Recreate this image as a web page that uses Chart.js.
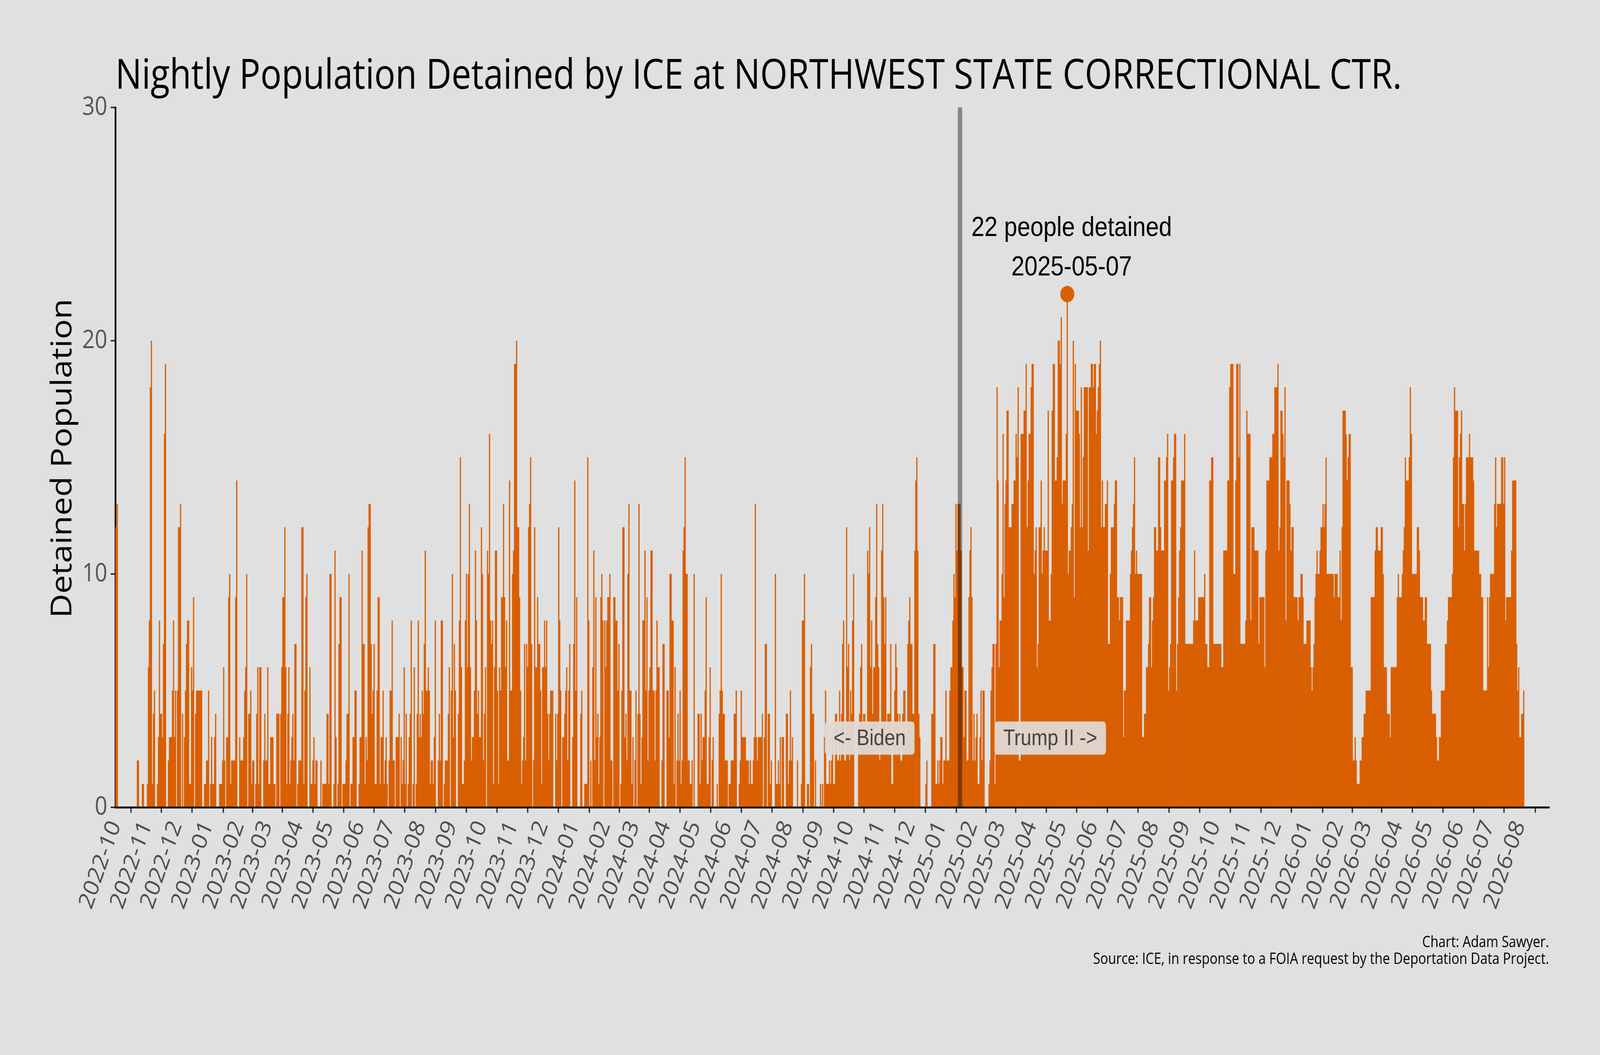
<!DOCTYPE html>
<html>
<head>
<meta charset="utf-8">
<title>Nightly Population Detained by ICE at NORTHWEST STATE CORRECTIONAL CTR.</title>
<script src="https://cdn.jsdelivr.net/npm/chart.js@4.4.1/dist/chart.umd.min.js"></script>
<style>
  html, body { margin: 0; padding: 0; background: #e0e0e0; overflow: hidden; }
  #detainedChart { display: block; }
</style>
</head>
<body>
<canvas id="detainedChart" width="4800" height="2700"></canvas>
<script>
// --- Data (one value per night) ---
const startDate = '2022-10-01';

const nightlyCounts = [
  // 2022-10
  12,12,13,0,0,0,0,0,0,0,0,0,0,0,0,0,0,0,0,0,0,0,2,2,0,0,0,1,1,0,0,
  // 2022-11
  0,1,6,8,18,20,1,4,5,0,0,1,3,8,4,4,3,7,16,19,0,0,2,3,3,3,5,8,3,5,
  // 2022-12
  0,5,12,12,13,0,4,0,3,5,7,8,8,1,1,6,5,9,0,4,5,5,5,5,5,5,0,0,1,1,2,
  // 2023-01
  2,5,0,1,3,1,1,3,4,0,0,0,1,1,1,2,6,2,0,3,3,9,10,1,2,2,2,2,9,14,0,
  // 2023-02
  0,3,2,2,2,3,5,6,10,0,4,4,5,1,2,2,0,1,4,6,1,6,6,0,0,2,4,2,
  // 2023-03
  2,6,1,1,3,3,3,1,1,0,4,4,4,0,4,6,9,9,12,6,1,4,6,1,2,3,4,2,7,7,0,
  // 2023-04
  1,2,2,2,12,12,1,5,9,10,0,0,6,1,1,2,3,1,2,2,0,0,0,2,0,1,1,1,1,4,
  // 2023-05
  4,1,10,10,0,0,1,11,3,0,1,7,9,9,0,1,1,1,2,4,4,10,0,1,1,3,3,5,5,0,0,
  // 2023-06
  1,3,3,11,7,7,1,3,2,12,13,13,7,4,5,7,1,1,5,9,9,1,3,3,5,1,2,3,1,0,
  // 2023-07
  2,5,5,8,2,2,0,3,3,3,4,0,3,1,2,6,1,4,0,1,3,4,8,0,1,6,0,1,4,8,3,
  // 2023-08
  4,3,5,4,7,11,5,5,6,5,1,2,2,1,3,8,0,0,2,4,2,8,8,0,1,2,2,2,4,6,0,
  // 2023-09
  5,10,3,7,5,0,0,4,8,15,6,1,1,2,8,10,6,10,13,6,2,3,3,5,11,8,4,5,3,3,
  // 2023-10
  12,10,2,4,6,0,11,10,16,8,7,8,1,6,11,11,5,1,6,5,9,9,13,9,6,8,2,2,14,5,5,
  // 2023-11
  10,11,19,19,20,12,12,9,5,1,2,3,7,2,7,6,12,13,15,7,0,2,12,6,6,9,7,7,5,1,
  // 2023-12
  6,6,8,6,8,4,2,4,5,5,5,0,0,4,2,4,12,8,5,0,3,3,4,5,6,2,5,7,0,0,3,
  // 2024-01
  7,14,5,9,0,0,0,4,5,0,0,1,1,1,15,8,0,2,0,6,11,2,9,3,4,1,3,9,10,8,0,
  // 2024-02
  8,6,8,9,9,10,2,2,0,9,9,8,8,5,7,0,1,5,12,12,3,4,2,10,13,5,5,1,3,
  // 2024-03
  0,2,5,0,4,13,4,1,3,8,8,11,5,9,2,5,6,11,11,5,5,2,5,8,6,6,0,0,2,7,7,
  // 2024-04
  0,0,5,5,3,10,10,8,8,1,6,0,2,4,2,5,1,2,11,12,15,10,10,2,2,1,1,2,0,10,
  // 2024-05
  0,0,0,4,4,1,4,2,3,3,5,9,1,1,3,6,0,2,3,0,0,0,1,0,4,5,10,5,4,4,2,
  // 2024-06
  2,2,0,1,1,2,2,2,4,4,5,0,0,1,2,5,3,3,3,3,2,2,2,1,2,1,1,2,3,13,
  // 2024-07
  3,2,3,3,3,3,4,0,3,7,7,0,4,4,1,2,0,0,0,10,1,1,2,1,3,0,3,3,0,0,4,
  // 2024-08
  4,1,2,5,2,3,0,0,0,0,2,0,0,0,1,8,8,10,0,0,1,1,0,6,7,4,4,0,2,0,0,
  // 2024-09
  0,0,1,0,1,0,3,5,1,1,1,2,1,2,3,1,1,4,4,2,2,5,2,4,7,8,2,2,12,6,
  // 2024-10
  7,2,5,4,8,10,0,0,0,0,3,4,6,7,3,4,4,3,3,11,10,12,6,8,4,6,6,9,13,7,6,
  // 2024-11
  2,3,11,13,9,7,9,3,4,4,4,7,1,1,3,5,7,6,4,3,4,2,2,4,5,5,3,3,7,8,
  // 2024-12
  9,7,7,4,4,11,14,15,11,4,3,0,0,0,0,0,1,2,0,0,0,0,4,4,7,7,1,1,2,1,2,
  // 2025-01
  3,3,1,2,2,5,2,2,2,5,6,6,8,10,9,13,11,13,13,13,11,6,6,3,5,5,2,2,9,11,12,
  // 2025-02
  9,2,4,2,3,4,1,1,3,5,2,5,5,0,0,0,0,1,2,5,6,7,7,1,7,18,14,6,
  // 2025-03
  8,8,10,16,9,13,14,17,17,12,12,12,13,13,14,14,16,15,18,2,2,16,16,16,17,17,19,12,14,16,16,
  // 2025-04
  18,19,19,10,11,12,6,7,12,12,14,10,11,12,11,11,11,17,8,8,10,17,19,19,14,14,15,20,20,19,
  // 2025-05
  21,13,14,14,14,16,22,10,11,11,12,13,20,9,19,17,17,17,16,12,18,12,15,18,18,18,18,11,18,18,19,
  // 2025-06
  19,18,19,19,16,17,18,19,20,12,14,12,12,13,13,14,7,7,10,12,12,12,13,14,14,9,9,8,9,9,
  // 2025-07
  9,3,5,5,8,8,8,8,10,11,12,13,15,10,11,10,10,10,10,10,3,3,4,4,6,6,7,9,9,6,8,
  // 2025-08
  9,12,12,11,11,15,15,12,11,11,11,14,14,15,16,5,6,7,14,14,15,16,16,5,7,9,11,12,14,14,14,
  // 2025-09
  16,7,7,7,7,7,7,7,7,8,11,8,8,8,9,9,9,9,9,9,10,7,7,6,6,14,14,15,15,7,
  // 2025-10
  7,7,7,7,7,7,7,6,6,11,11,11,11,14,14,18,19,19,19,10,10,14,19,19,15,19,7,7,7,7,7,
  // 2025-11
  8,17,16,16,16,8,12,12,12,11,11,11,11,7,9,9,9,9,9,6,11,14,14,14,15,15,15,16,16,18,
  // 2025-12
  18,18,19,11,12,17,17,16,15,18,8,14,14,14,13,11,12,12,9,9,9,9,8,9,9,10,10,9,7,7,7,
  // 2026-01
  8,8,8,8,6,5,6,7,9,10,11,10,10,11,12,12,13,12,13,15,10,10,10,10,10,10,10,9,10,10,10,
  // 2026-02
  9,9,11,8,12,17,17,17,16,14,15,16,16,6,6,2,2,3,2,1,1,1,2,2,3,3,4,4,
  // 2026-03
  5,5,5,5,5,9,9,9,9,11,12,12,11,11,11,12,12,10,6,6,6,4,4,4,3,6,6,6,6,6,6,
  // 2026-04
  9,10,9,9,9,10,11,12,15,14,14,14,15,18,16,10,10,10,10,10,12,12,11,9,9,9,8,8,9,9,
  // 2026-05
  7,7,7,7,5,4,4,4,4,3,2,2,3,3,5,5,5,5,7,7,8,9,9,9,9,10,15,18,17,17,17,
  // 2026-06
  12,15,16,17,13,13,11,13,15,15,15,16,15,15,15,14,11,11,11,11,11,10,10,9,9,5,5,5,5,9,
  // 2026-07
  6,9,10,10,10,10,13,15,12,13,13,13,13,15,15,13,15,8,9,9,9,9,9,11,14,14,14,14,7,5,6,
  // 2026-08
  3,3,4,4,5
];

const monthLabels = [
  '2022-10','2022-11','2022-12',
  '2023-01','2023-02','2023-03','2023-04','2023-05','2023-06',
  '2023-07','2023-08','2023-09','2023-10','2023-11','2023-12',
  '2024-01','2024-02','2024-03','2024-04','2024-05','2024-06',
  '2024-07','2024-08','2024-09','2024-10','2024-11','2024-12',
  '2025-01','2025-02','2025-03','2025-04','2025-05','2025-06',
  '2025-07','2025-08','2025-09','2025-10','2025-11','2025-12',
  '2026-01','2026-02','2026-03','2026-04','2026-05','2026-06',
  '2026-07','2026-08'
];
const yTicks = [0, 10, 20, 30];

const inaugurationDate = '2025-01-20';
const eraLabels = ['<- Biden', 'Trump II ->'];

const titleText = 'Nightly Population Detained by ICE at NORTHWEST STATE CORRECTIONAL CTR.';
const yAxisTitle = 'Detained Population';
const footerLines = [
  'Chart: Adam Sawyer.',
  'Source: ICE, in response to a FOIA request by the Deportation Data Project.'
];

// --- Helpers ---
const DAY_MS = 86400000;
function dayIndex(iso) {
  return Math.round((Date.parse(iso + 'T00:00:00Z') - Date.parse(startDate + 'T00:00:00Z')) / DAY_MS);
}
function isoForDay(d) {
  return new Date(Date.parse(startDate + 'T00:00:00Z') + d * DAY_MS).toISOString().slice(0, 10);
}
// font size that makes text span a given width
function fitSize(ctx, text, family, width) {
  ctx.font = '100px ' + family;
  return 100 * width / ctx.measureText(text).width;
}
function roundRect(ctx, x, y, w, h, r) {
  ctx.beginPath();
  ctx.moveTo(x + r, y);
  ctx.lineTo(x + w - r, y);
  ctx.quadraticCurveTo(x + w, y, x + w, y + r);
  ctx.lineTo(x + w, y + h - r);
  ctx.quadraticCurveTo(x + w, y + h, x + w - r, y + h);
  ctx.lineTo(x + r, y + h);
  ctx.quadraticCurveTo(x, y + h, x, y + h - r);
  ctx.lineTo(x, y + r);
  ctx.quadraticCurveTo(x, y, x + r, y);
  ctx.closePath();
}

const monthTickDays = monthLabels.map(m => dayIndex(m + '-01'));
const labelForDay = {};
monthTickDays.forEach((d, i) => { labelForDay[d] = monthLabels[i]; });

const peakValue = Math.max(...nightlyCounts);
const peakDay = nightlyCounts.indexOf(peakValue);
const lastAxisDay = 1429.2;

const SANS = '"Open Sans", "Noto Sans", sans-serif';
const ARIAL = '"Liberation Sans", Arial, sans-serif';
const ORANGE = '#d95f02';

// --- Plugin: background, inauguration line, labels, title, footer ---
const overlayPlugin = {
  id: 'overlay',
  beforeDraw(chart) {
    const ctx = chart.ctx;
    ctx.save();
    ctx.fillStyle = '#e0e0e0';
    ctx.fillRect(0, 0, chart.width, chart.height);
    ctx.restore();
  },
  afterDatasetsDraw(chart) {
    const { ctx, chartArea, scales: { x } } = chart;
    const lx = x.getPixelForValue(dayIndex(inaugurationDate));
    ctx.save();
    ctx.strokeStyle = 'rgba(0,0,0,0.4)';
    ctx.lineWidth = 13;
    ctx.beginPath();
    ctx.moveTo(lx, chartArea.top);
    ctx.lineTo(lx, chartArea.bottom);
    ctx.stroke();
    ctx.restore();
  },
  afterDraw(chart) {
    const { ctx, chartArea, scales: { x, y } } = chart;
    ctx.save();

    // era boxes, 90 days either side of the inauguration, at y = 3
    const inaug = dayIndex(inaugurationDate);
    const eraSize = fitSize(ctx, eraLabels[0], ARIAL, 217);
    ctx.font = eraSize + 'px ' + ARIAL;
    ctx.textAlign = 'center';
    ctx.textBaseline = 'middle';
    [inaug - 90, inaug + 90].forEach((d, i) => {
      const cx = x.getPixelForValue(d);
      const cy = y.getPixelForValue(3);
      const w = ctx.measureText(eraLabels[i]).width + 52;
      const h = 85;
      ctx.fillStyle = 'rgba(224,216,211,0.95)';
      roundRect(ctx, cx - w / 2, cy - h / 2 + 2, w, h, 10);
      ctx.fill();
      ctx.fillStyle = '#444444';
      ctx.fillText(eraLabels[i], cx, cy + 4);
    });

    // peak annotation
    const px = x.getPixelForValue(peakDay) + 13;
    const py = y.getPixelForValue(peakValue);
    const line1 = peakValue + ' people detained';
    const annSize = fitSize(ctx, line1, ARIAL, 602);
    ctx.font = annSize + 'px ' + ARIAL;
    ctx.fillStyle = '#000000';
    ctx.textAlign = 'center';
    ctx.textBaseline = 'alphabetic';
    ctx.fillText(line1, px, py - 149);
    ctx.fillText(isoForDay(peakDay), px, py - 48);

    // title
    const tSize = fitSize(ctx, titleText, SANS, 3860);
    ctx.font = tSize + 'px ' + SANS;
    ctx.textAlign = 'left';
    ctx.fillText(titleText, chartArea.left, 227);

    // y axis title
    const ySize = fitSize(ctx, yAxisTitle, SANS, 817);
    ctx.font = ySize + 'px ' + SANS;
    ctx.save();
    ctx.translate(214, 1173);
    ctx.rotate(-Math.PI / 2);
    ctx.textAlign = 'center';
    ctx.fillText(yAxisTitle, 0, 0);
    ctx.restore();

    // footer
    const fSize = fitSize(ctx, footerLines[1], SANS, 1368);
    ctx.font = fSize + 'px ' + SANS;
    ctx.textAlign = 'right';
    ctx.fillText(footerLines[0], chartArea.right, 2424);
    ctx.fillText(footerLines[1], chartArea.right, 2467);

    ctx.restore();
  }
};

// --- Chart ---
// the chart is laid out on a 4800x2700 surface; the canvas is shown at the window size
const canvas = document.getElementById('detainedChart');
canvas.style.width = window.innerWidth + 'px';
canvas.style.height = window.innerHeight + 'px';

new Chart(canvas.getContext('2d'), {
  type: 'bar',
  data: {
    datasets: [
      {
        type: 'scatter',
        label: 'Peak',
        data: [{ x: peakDay, y: peakValue }],
        pointRadius: 21,
        pointHoverRadius: 21,
        backgroundColor: ORANGE,
        borderWidth: 0,
        order: 0
      },
      {
        type: 'bar',
        label: 'Detained',
        data: nightlyCounts.map((v, i) => ({ x: i, y: v })),
        backgroundColor: ORANGE,
        borderWidth: 0,
        barPercentage: 1,
        categoryPercentage: 1,
        order: 1
      }
    ]
  },
  options: {
    responsive: false,
    devicePixelRatio: 1,
    animation: false,
    layout: { padding: { top: 275, right: 153, bottom: 0, left: 0 } },
    plugins: {
      legend: { display: false },
      title: { display: false },
      tooltip: { enabled: false }
    },
    scales: {
      x: {
        type: 'linear',
        min: 0,
        max: lastAxisDay,
        offset: false,
        afterFit(scale) { scale.height = 634; },
        afterBuildTicks(scale) { scale.ticks = monthTickDays.map(v => ({ value: v })); },
        ticks: {
          autoSkip: false,
          minRotation: 68,
          maxRotation: 68,
          padding: 10,
          color: '#4d4d4d',
          font: { family: SANS, size: 63 },
          callback: (v) => labelForDay[v] || ''
        },
        grid: { drawOnChartArea: false, drawTicks: true, tickLength: 14, color: '#333333', lineWidth: 4 },
        border: { display: true, color: '#000000', width: 5 }
      },
      y: {
        min: 0,
        max: 30,
        afterFit(scale) { scale.width = 346; },
        afterBuildTicks(scale) { scale.ticks = yTicks.map(v => ({ value: v })); },
        ticks: {
          padding: 10,
          color: '#555555',
          font: { family: SANS, size: 66 }
        },
        grid: { drawOnChartArea: false, drawTicks: true, tickLength: 14, color: '#333333', lineWidth: 4 },
        border: { display: true, color: '#000000', width: 5 }
      }
    }
  },
  plugins: [overlayPlugin]
});
</script>
</body>
</html>
